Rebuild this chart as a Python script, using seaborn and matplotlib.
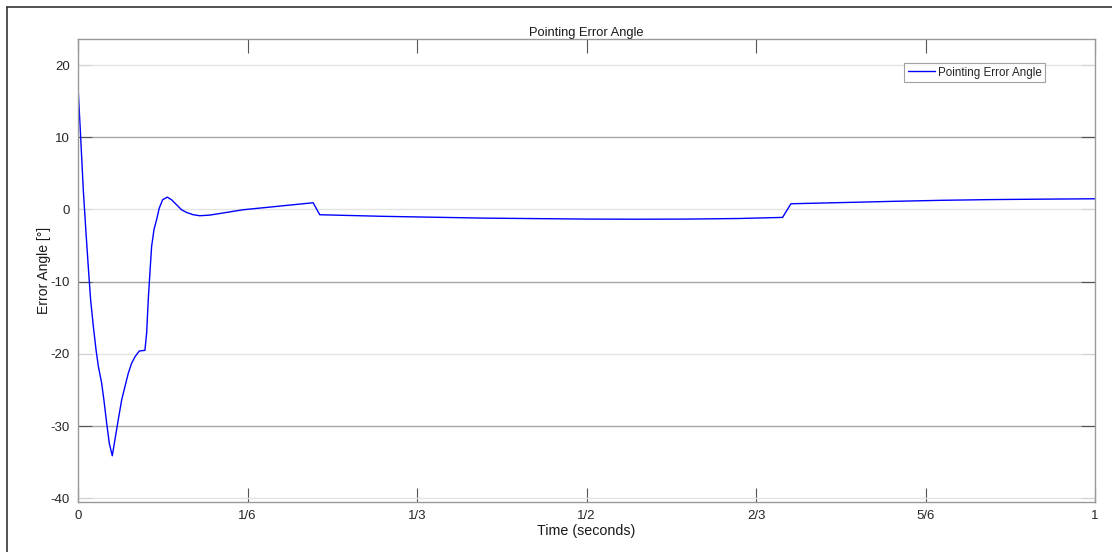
import pandas as pd
import matplotlib.pyplot as plt
from matplotlib.lines import Line2D
import seaborn as sns

# values
time_s = [0.0, 0.0026, 0.0052, 0.0079, 0.0101, 0.0124, 0.0151, 0.0177,
          0.0200, 0.0232, 0.0255, 0.0282, 0.0308, 0.0337, 0.0363, 0.0396,
          0.0429, 0.0462, 0.0494, 0.0527, 0.0560, 0.0602, 0.0658, 0.0675,
          0.0691, 0.0707, 0.0724, 0.0747, 0.0773, 0.0799, 0.0832, 0.0878,
          0.0920, 0.0969, 0.1018, 0.1067, 0.1133, 0.1198, 0.1297, 0.1460,
          0.1624, 0.1952, 0.2312, 0.2377, 0.30, 0.40, 0.50, 0.55, 0.60,
          0.65, 0.6928, 0.701, 0.75, 0.80, 0.85, 0.90, 0.95, 1.0]
error_deg = [17.0, 10.1, 2.7, -3.3, -7.9, -12.5, -16.2, -19.4,
             -21.7, -24.0, -26.4, -29.6, -32.4, -34.1, -31.9, -29.1,
             -26.4, -24.5, -22.7, -21.3, -20.4, -19.6, -19.5, -17.1,
             -12.5, -8.8, -5.1, -2.8, -1.4, 0.19, 1.34, 1.71,
             1.34, 0.65, -0.04, -0.41, -0.73, -0.87, -0.78, -0.41,
             -0.04, 0.42, 0.93, -0.73, -0.95, -1.2, -1.33, -1.35, -1.33,
             -1.25, -1.1, 0.79, 0.95, 1.12, 1.27, 1.37, 1.43, 1.48]
xtick_vals = [0, 1/6, 1/3, 1/2, 2/3, 5/6, 1]
xtick_labels = ["0", "1/6", "1/3", "1/2", "2/3", "5/6", "1"]
ytick_vals = [20, 10, 0, -10, -20, -30, -40]

df = pd.DataFrame({"Time": time_s, "Error": error_deg,
                   "series": "Pointing Error Angle"})

sns.set_theme(style="whitegrid")
plt.rcParams['font.family'] = ['Liberation Sans', 'DejaVu Sans']
plt.rcParams['axes.unicode_minus'] = False

fig = plt.figure(figsize=(11.12, 5.52), dpi=100)
ax = fig.add_axes([78 / 1112, 50 / 552, 1017 / 1112, 463 / 552])

sns.lineplot(data=df, x="Time", y="Error", hue="series",
             palette=["#0000ff"], linewidth=1.0, ax=ax)

ax.set_xlim(0, 1)
ax.set_ylim(-40.5, 23.6)
ax.set_xticks(xtick_vals)
ax.set_xticklabels(xtick_labels)
ax.set_yticks(ytick_vals)

ax.grid(True, axis="y", linewidth=1.0)
ax.grid(False, axis="x")
for sp in ax.spines.values():
    sp.set_color("#999999")
    sp.set_linewidth(1.0)

ax.tick_params(axis="both", direction="in", length=10, width=0.8,
               color="#555555", labelsize=9.5, labelcolor="#262626",
               top=True, right=True, bottom=True, left=True, pad=6)

# the reference renders every other horizontal grid line darker
for i, (gl, tk) in enumerate(zip(ax.get_ygridlines(), ax.yaxis.get_major_ticks())):
    dark = i % 2 == 1
    gl.set_color("#a8a8a8" if dark else "#e4e4e4")
    tk.tick1line.set_markeredgecolor("#555555" if dark else "#d4d4d4")
    tk.tick2line.set_markeredgecolor("#555555" if dark else "#d4d4d4")

ax.set_title("Pointing Error Angle", fontsize=9.3, color="#1a1a1a", pad=2)
ax.set_xlabel("Time (seconds)", fontsize=10.3, color="#1a1a1a")
ax.set_ylabel("Error Angle [°]", fontsize=10, color="#1a1a1a")
ax.xaxis.set_label_coords(0.5, -0.047)
ax.yaxis.set_label_coords(-0.0262, 0.5)

leg = ax.legend(loc="upper right", bbox_to_anchor=(0.9509, 0.948),
                fontsize=8.4, frameon=True, fancybox=False,
                handlelength=2.3, handletextpad=0.25, borderpad=0.3,
                borderaxespad=0)
leg.get_frame().set_edgecolor("#8a8a8a")
leg.get_frame().set_linewidth(0.8)
leg.set_title(None)

# outer figure border (only top and left edges are visible)
fig.add_artist(Line2D([6.5 / 1112, 6.5 / 1112], [0, 1 - 6.5 / 552],
                      transform=fig.transFigure, color="#333333", lw=1.2))
fig.add_artist(Line2D([6.5 / 1112, 1], [1 - 6.5 / 552, 1 - 6.5 / 552],
                      transform=fig.transFigure, color="#333333", lw=1.2))

fig.savefig("out.png", dpi=100)
